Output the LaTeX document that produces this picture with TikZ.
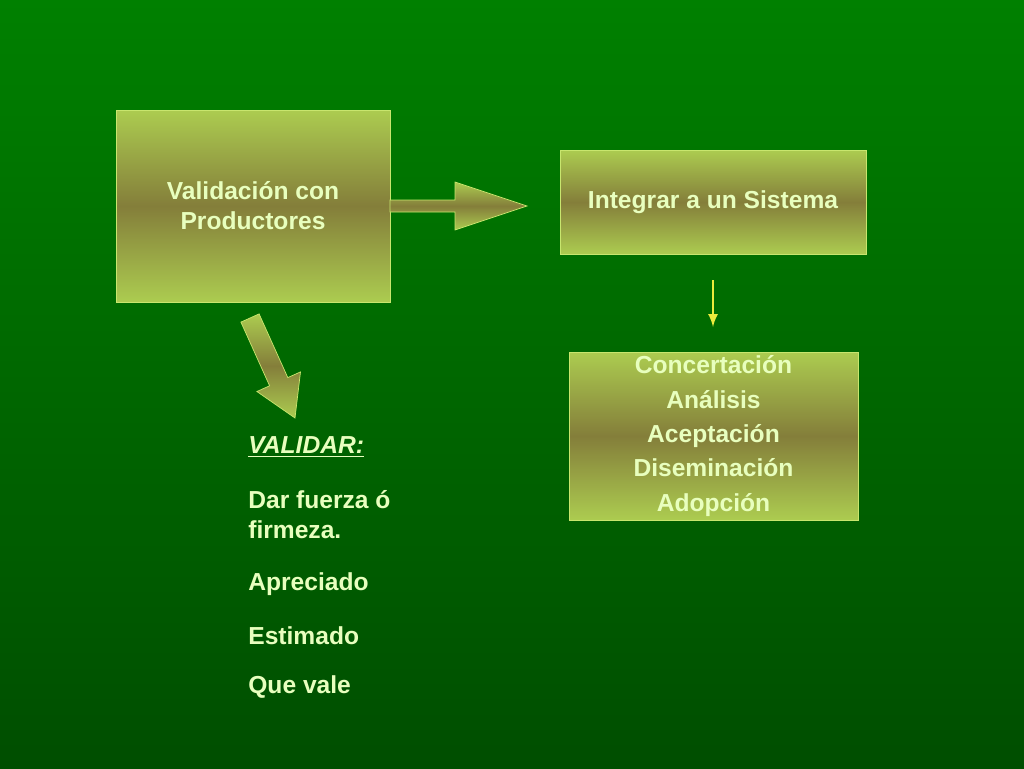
\documentclass[tikz,border=0pt]{standalone}
\usepackage{fontspec}
\setmainfont{Liberation Sans}
\usepackage{tikz}
\definecolor{bgtop}{RGB}{0,128,0}
\definecolor{bgbot}{RGB}{0,78,0}
\definecolor{boxlight}{RGB}{172,204,80}
\definecolor{boxmid}{RGB}{132,126,58}
\definecolor{boxline}{RGB}{200,230,110}
\definecolor{txt}{RGB}{232,255,190}
\definecolor{arrowyellow}{RGB}{235,235,60}
\tikzset{
  box/.style={draw=boxline, top color=boxlight, bottom color=boxlight, middle color=boxmid,
    text=txt, font=\bfseries\fontsize{14}{17}\selectfont, align=center, inner sep=0pt},
  blockarrow/.style={draw=boxline, top color=boxlight, bottom color=boxlight, middle color=boxmid},
  plain/.style={text=txt, font=\bfseries\fontsize{14}{17}\selectfont, anchor=west, align=left, inner sep=0pt}
}
\begin{document}
\begin{tikzpicture}[x=0.02cm,y=-0.02cm]
		\shade[top color=bgtop, bottom color=bgbot] (0,0) rectangle (1024,768);
		\useasboundingbox (0,0) rectangle (1024,768);
		
		\node[box, minimum width=274*0.02cm, minimum height=192*0.02cm] (valid) at (253,206) {Validación con\\Productores};
		\node[box, minimum width=306*0.02cm, minimum height=104*0.02cm] (integ) at (713,202) {Integrar a un Sistema};
		\node[box, minimum width=289*0.02cm, minimum height=168*0.02cm, font=\bfseries\fontsize{14}{19.5}\selectfont] (conc) at (713.5,436) {Concertación\\Análisis\\Aceptación\\Diseminación\\Adopción};
		
		% flecha horizontal
		\draw[blockarrow] (390,200) -- (455,200) -- (455,182) -- (527,206) -- (455,230) -- (455,212) -- (390,212) -- cycle;
		% flecha diagonal
		\draw[blockarrow] (259.1,313.9) -- (287.8,377.6) -- (300.5,371.9) -- (295,418) -- (256.9,391.5) -- (269.6,385.8) -- (240.9,322.1) -- cycle;
		% flecha amarilla
		\coordinate (d1) at (713,280);
		\coordinate (d2) at (713,327);
		\draw[arrowyellow, line width=1.5pt, -latex] (d1) -- (d2);
		
		\node[plain, font=\bfseries\itshape\fontsize{14}{17}\selectfont] (vtit) at (248,447) {\underline{VALIDAR:}};
		\node[plain] (v1) at (248,515) {Dar fuerza ó\\firmeza.};
		\node[plain] (v2) at (248,584) {Apreciado};
		\node[plain] (v3) at (248,636) {Estimado};
		\node[plain] (v4) at (248,687) {Que vale};
	\end{tikzpicture}
\end{document}
